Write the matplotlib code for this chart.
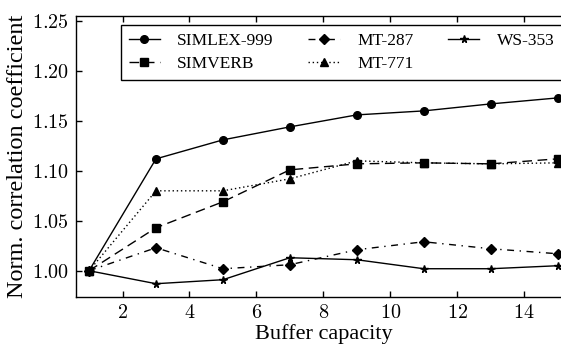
import numpy as np
import matplotlib
matplotlib.use("Agg")
import matplotlib.pyplot as plt
from matplotlib.ticker import FuncFormatter

plt.rcParams['font.family'] = ['Liberation Serif', 'DejaVu Serif']
plt.rcParams['mathtext.fontset'] = 'cm'

buffer_capacity = [1, 3, 5, 7, 9, 11, 13, 15]
simlex = [1.000, 1.112, 1.131, 1.144, 1.156, 1.160, 1.167, 1.173]
simverb = [1.000, 1.043, 1.069, 1.101, 1.107, 1.108, 1.107, 1.112]
mt287 = [1.000, 1.023, 1.002, 1.006, 1.021, 1.029, 1.022, 1.017]
mt771 = [1.000, 1.080, 1.080, 1.092, 1.110, 1.108, 1.107, 1.108]
ws353 = [1.000, 0.987, 0.991, 1.013, 1.011, 1.002, 1.002, 1.005]

fig = plt.figure(figsize=(5.61, 3.46), dpi=100)
# axes runs past the right edge, as in the cropped original
ax = fig.add_axes([76 / 561, 1 - 296.7 / 346, 495 / 561, 280.7 / 346])

ax.plot(buffer_capacity, simlex, color='black', linestyle='-', marker='o', markersize=5.5, linewidth=1, label='SIMLEX-999')
ax.plot(buffer_capacity, simverb, color='black', linestyle=(0, (7, 4)), marker='s', markersize=5.5, linewidth=1, label='SIMVERB')
ax.plot(buffer_capacity, mt287, color='black', linestyle=(0, (5, 4, 1, 4)), marker='D', markersize=5.5, linewidth=1, label='MT-287')
ax.plot(buffer_capacity, mt771, color='black', linestyle=(0, (1, 2)), marker='^', markersize=5.5, linewidth=1, label='MT-771')
ax.plot(buffer_capacity, ws353, color='black', linestyle='-', marker='*', markersize=5.5, linewidth=1, label='WS-353')

ax.set_xlim(0.61, 15.4)
ax.set_ylim(0.974, 1.255)
ax.set_xticks([2, 4, 6, 8, 10, 12, 14])
ax.set_yticks([1.00, 1.05, 1.10, 1.15, 1.20, 1.25])
ax.xaxis.set_major_formatter(FuncFormatter(lambda v, p: r'$%d$' % v))
ax.yaxis.set_major_formatter(FuncFormatter(lambda v, p: r'$%.2f$' % v))
ax.tick_params(direction='in', top=True, right=True, length=4, width=1, labelsize=14.5, pad=5)
for s in ax.spines.values():
    s.set_linewidth(1)

ax.set_xlabel('Buffer capacity', fontsize=16, labelpad=1)
ax.set_ylabel('Norm. correlation coefficient', fontsize=17.5, labelpad=3)

leg = ax.legend(ncol=3, loc='upper left', bbox_to_anchor=(0.0903, 0.968), borderaxespad=0,
                fontsize=12.5, fancybox=False, edgecolor='black', framealpha=1,
                handlelength=1.8, handletextpad=1.0, columnspacing=2.0,
                borderpad=0.45, labelspacing=0.4)
leg.get_frame().set_linewidth(1)

fig.savefig('out.png', dpi=100)
